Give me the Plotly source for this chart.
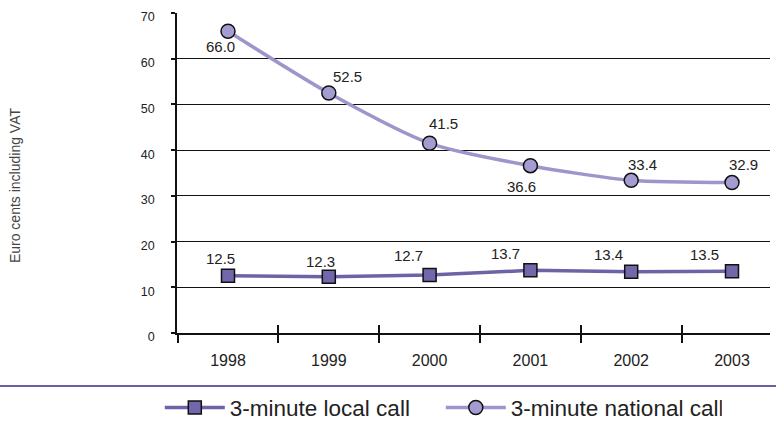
import plotly.graph_objects as go

# Call prices, euro cents including VAT
years = ["1998", "1999", "2000", "2001", "2002", "2003"]
local_call = [12.5, 12.3, 12.7, 13.7, 13.4, 13.5]
national_call = [66.0, 52.5, 41.5, 36.6, 33.4, 32.9]
y_ticks = [0, 10, 20, 30, 40, 50, 60, 70]

# label offsets (px) around each marker
local_dx = [-8, -8, -21, -25, -23, -28]
local_dy = [17, 15, 19, 17, 17, 17]
nat_dx = [-8, 19, 14, -9, 11, 11]
nat_dy = [-15, 17, 20, -21, 16, 18]

DARK = "#6d63a6"
LIGHT = "#9d95cb"
TEXT = "#222222"
FONT = "Liberation Sans, Arial, sans-serif"

xpos = list(range(len(years)))

fig = go.Figure()
fig.add_trace(go.Scatter(
    x=xpos, y=local_call, name="3-minute local call", mode="lines+markers",
    line=dict(color=DARK, width=3.5),
    marker=dict(symbol="square", size=13, color="#7267aa",
                line=dict(color="#111111", width=1.5)),
    cliponaxis=False,
))
fig.add_trace(go.Scatter(
    x=xpos, y=national_call, name="3-minute national call", mode="lines+markers",
    line=dict(color=LIGHT, width=3.5, shape="spline", smoothing=0.7),
    marker=dict(symbol="circle", size=14, color="#a39cd1",
                line=dict(color="#111111", width=1.5)),
    cliponaxis=False,
))

for xs, ys, dxs, dys in ((xpos, local_call, local_dx, local_dy),
                         (xpos, national_call, nat_dx, nat_dy)):
    for x, y, dx, dy in zip(xs, ys, dxs, dys):
        fig.add_annotation(x=x, y=y, text=f"{y:.1f}", showarrow=False,
                           xshift=dx, yshift=dy,
                           font=dict(family=FONT, size=15, color=TEXT))

fig.add_annotation(xref="paper", yref="paper", x=-0.273, y=0.4625,
                   xanchor="center", yanchor="middle",
                   text="Euro cents including VAT", textangle=-90,
                   showarrow=False,
                   font=dict(family=FONT, size=14, color="#444444"))

# divider between plot and key
fig.add_shape(type="line", xref="paper", yref="paper",
              x0=-0.2985, x1=1.0101, y0=-0.166, y1=-0.166,
              line=dict(color="#6a5fa3", width=2))

x_range = [-0.506, 5.377]
tick_bounds = [-0.5, 0.5, 1.5, 2.5, 3.5, 4.5]

fig.update_layout(
    width=776, height=423,
    margin=dict(l=177, r=6, t=13, b=90, autoexpand=False),
    paper_bgcolor="white", plot_bgcolor="white",
    showlegend=True,
    legend=dict(orientation="h", x=-0.029, xanchor="left", y=-0.234,
                yanchor="middle", font=dict(family=FONT, size=22.5, color=TEXT),
                itemwidth=60, entrywidth=206, entrywidthmode="pixels",
                bgcolor="rgba(0,0,0,0)"),
    xaxis=dict(range=x_range, tickmode="array", tickvals=xpos, ticktext=years,
               ticks="", showgrid=False, zeroline=False,
               showline=True, linecolor="#111111", linewidth=1.5,
               ticklabelstandoff=12,
               tickfont=dict(family=FONT, size=16, color=TEXT),
               minor=dict(tickmode="array", tickvals=tick_bounds, ticks="outside",
                          ticklen=8, tickwidth=1.5, tickcolor="#111111",
                          showgrid=False)),
    xaxis2=dict(range=x_range, overlaying="x", anchor="y", side="bottom",
                tickmode="array", tickvals=tick_bounds, ticks="inside",
                ticklen=8, tickwidth=1.5, tickcolor="#111111",
                showticklabels=False, showgrid=False, zeroline=False,
                showline=False),
    yaxis=dict(range=[0, 70], tickmode="array", tickvals=y_ticks,
               ticks="outside", ticklen=4, tickwidth=1.5, tickcolor="#111111",
               showgrid=True, gridcolor="#111111", gridwidth=1.4,
               zeroline=False, showline=True, linecolor="#111111", linewidth=1.5,
               ticklabelstandoff=14, ticklabelshift=4,
               tickfont=dict(family=FONT, size=12.5, color=TEXT)),
)

# invisible trace to carry the second x axis for the inner tick marks
fig.add_trace(go.Scatter(x=[x_range[0]], y=[0], xaxis="x2", mode="markers",
                         marker=dict(opacity=0), showlegend=False,
                         hoverinfo="skip"))

fig.write_html("out.html")
